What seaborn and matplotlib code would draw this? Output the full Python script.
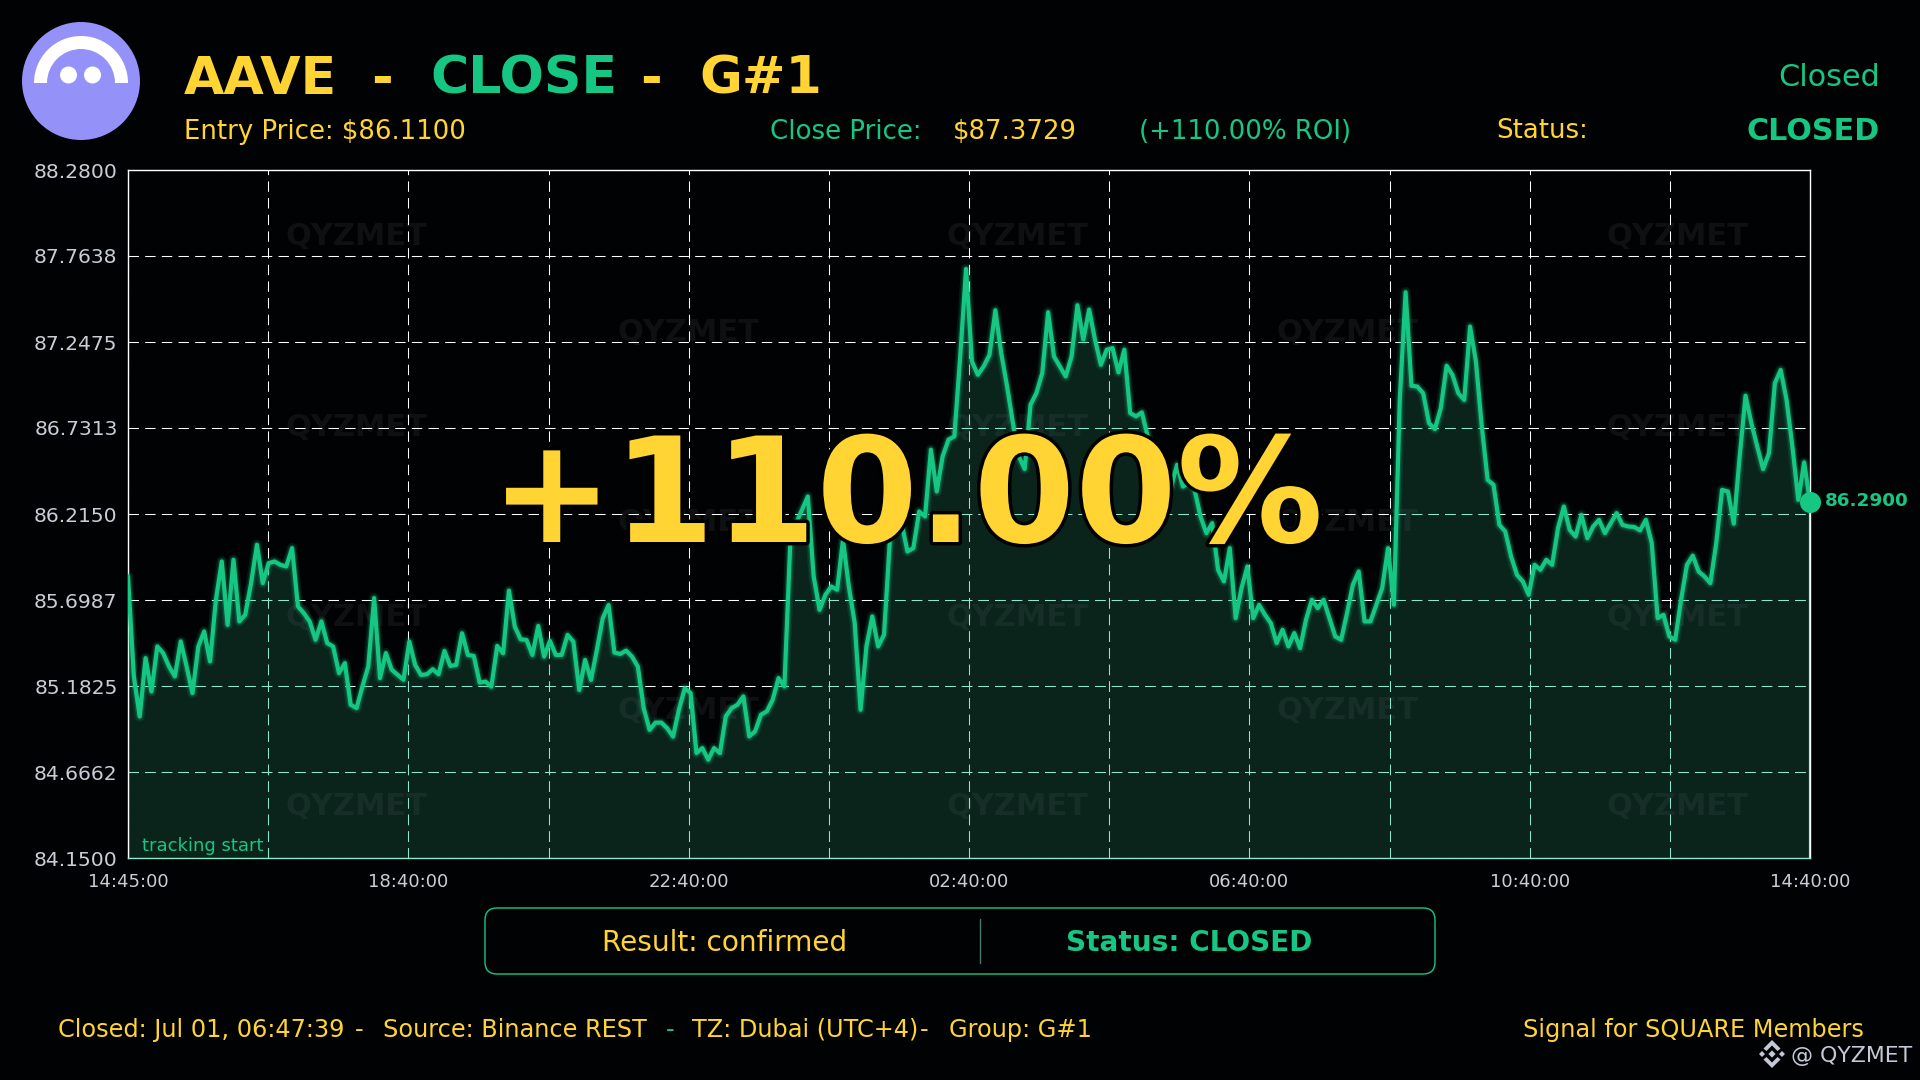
import matplotlib
matplotlib.use("Agg")
import matplotlib.pyplot as plt
import matplotlib.patheffects as pe
from matplotlib.patches import Circle, Wedge, Polygon, FancyBboxPatch
import numpy as np
import seaborn as sns

GREEN = '#16C784'
YELLOW = '#FFD433'
MINT = '#8fe8cd'
GRAY = '#c9ced6'
BG = '#010203'

# close prices, one per candle
prices = [
    85.84, 85.24, 85.00, 85.35, 85.15, 85.42, 85.38, 85.30, 85.24, 85.45,
    85.30, 85.14, 85.42, 85.51, 85.33, 85.70, 85.93, 85.55, 85.94, 85.57,
    85.61, 85.80, 86.03, 85.80, 85.92, 85.93, 85.91, 85.90, 86.01, 85.66,
    85.62, 85.57, 85.46, 85.57, 85.44, 85.42, 85.26, 85.32, 85.07, 85.05,
    85.18, 85.30, 85.71, 85.23, 85.38, 85.28, 85.25, 85.22,
    85.449, 85.309, 85.249, 85.253, 85.283, 85.253, 85.393, 85.303, 85.309, 85.499,
    85.369, 85.363, 85.203, 85.209, 85.179, 85.423, 85.379, 85.755, 85.539, 85.463,
    85.459, 85.369, 85.543, 85.359, 85.453, 85.369, 85.369, 85.489, 85.449, 85.159,
    85.339, 85.219, 85.399, 85.589, 85.669, 85.383, 85.375, 85.395, 85.359, 85.299,
    85.049, 84.919, 84.963, 84.963, 84.929, 84.879, 85.039, 85.169,
    85.14, 84.78, 84.81, 84.74, 84.81, 84.78, 85.00, 85.05, 85.07, 85.12,
    84.88, 84.91, 85.01, 85.03, 85.10, 85.23, 85.18, 86.04, 86.16, 86.24,
    86.32, 85.84, 85.64, 85.73, 85.78, 85.76, 86.06, 85.78, 85.56, 85.04,
    85.42, 85.60, 85.42, 85.49, 86.06, 86.20, 86.16, 85.99, 86.01, 86.23,
    86.20, 86.601, 86.351, 86.561, 86.661, 86.681, 87.161, 87.686,
    87.131, 87.051, 87.101, 87.171, 87.438, 87.181, 86.981, 86.761, 86.561, 86.485,
    86.871, 86.941, 87.061, 87.426, 87.161, 87.101, 87.041, 87.161, 87.468, 87.262,
    87.442, 87.262, 87.111, 87.201, 87.211, 87.065, 87.201, 86.821, 86.801, 86.825,
    86.68, 86.56, 86.50, 86.44, 86.38, 86.51, 86.38, 86.40, 86.36, 86.20,
    86.10, 86.16, 85.88, 85.81, 86.01, 85.59, 85.77, 85.90, 85.59, 85.67,
    85.61, 85.56, 85.44, 85.52, 85.42, 85.50, 85.41, 85.58, 85.70, 85.65,
    85.70, 85.59, 85.48, 85.46, 85.62, 85.79, 85.87, 85.57, 85.57, 85.67,
    85.77, 86.01, 85.67, 86.90, 87.546, 86.985, 86.98, 86.94, 86.76, 86.725,
    86.85, 87.105, 87.05, 86.94, 86.90, 87.34, 87.13, 86.74, 86.42, 86.39,
    86.15, 86.11, 85.96, 85.85, 85.81, 85.73, 85.91, 85.88, 85.94, 85.91,
    86.13, 86.26, 86.12, 86.08, 86.21, 86.07, 86.14, 86.18, 86.10, 86.16,
    86.22, 86.15, 86.14, 86.137, 86.117, 86.18, 86.04, 85.59, 85.61, 85.48,
    85.46, 85.70, 85.91, 85.965, 85.87, 85.84, 85.80, 86.04, 86.36, 86.35,
    86.157, 86.56, 86.925, 86.76, 86.62, 86.485, 86.58, 87.00, 87.08, 86.90,
    86.62, 86.30, 86.525, 86.29,
]
y_ticks = [84.15, 84.6662, 85.1825, 85.6987, 86.2150, 86.7313, 87.2475, 87.7638, 88.28]
x_labels = ['14:45:00', '', '18:40:00', '', '22:40:00', '', '02:40:00', '', '06:40:00', '',
            '10:40:00', '', '14:40:00']

idx = np.arange(len(prices))
x_ticks = np.linspace(idx[0], idx[-1], len(x_labels))

sns.set_theme(style='dark', rc={'figure.facecolor': BG, 'axes.facecolor': BG, 'savefig.facecolor': BG})
plt.rcParams['font.family'] = 'DejaVu Sans'

fig = plt.figure(figsize=(19.2, 10.8), dpi=100)
ax = fig.add_axes([128 / 1920, 1 - 858 / 1080, (1810 - 128) / 1920, (858 - 170) / 1080])

dash = (0, (10, 6))
ax.set_xlim(idx[0], idx[-1])
ax.set_ylim(y_ticks[0], y_ticks[-1])
ax.set_xticks(x_ticks, x_labels)
ax.set_yticks(y_ticks, ['%.4f' % v for v in y_ticks])
ax.tick_params(axis='x', colors=GRAY, labelsize=13, length=0, pad=10.5)
ax.tick_params(axis='y', colors=GRAY, labelsize=14.6, length=0, pad=7.5)
ax.grid(True, color='white', alpha=1, lw=0.75, linestyle=dash)
ax.set_axisbelow(True)
for s in ax.spines.values():
    s.set_color('white')
    s.set_linewidth(1)
    s.set_visible(True)

# watermark
for xf in [0.136, 0.529, 0.921]:
    for yf in [0.903, 0.625, 0.349, 0.075]:
        ax.text(xf, yf, 'QYZMET', transform=ax.transAxes, color='white', alpha=0.06, fontsize=22,
                fontweight='bold', ha='center', va='center', zorder=1)
for xf in [0.333, 0.725]:
    for yf in [0.764, 0.488, 0.214]:
        ax.text(xf, yf, 'QYZMET', transform=ax.transAxes, color='white', alpha=0.06, fontsize=22,
                fontweight='bold', ha='center', va='center', zorder=1)

fill = ax.fill_between(idx, prices, y_ticks[0], color='#3ac795', alpha=0.17, lw=0, zorder=2)

# grid and frame turn mint under the area
clip_path = fill.get_paths()[0]
for v in x_ticks[1:-1]:
    l = ax.axvline(v, color=MINT, lw=0.75, linestyle=dash, zorder=2.5)
    l.set_clip_path(clip_path, fill.get_transform())
for v in y_ticks[1:-1]:
    l = ax.axhline(v, color=MINT, lw=0.75, linestyle=dash, zorder=2.5)
    l.set_clip_path(clip_path, fill.get_transform())
for v in [idx[0], idx[-1]]:
    l = ax.axvline(v, color=MINT, lw=1.6, zorder=2.5)
    l.set_clip_path(clip_path, fill.get_transform())
ax.spines['bottom'].set_color(MINT)

line = sns.lineplot(x=idx, y=prices, ax=ax, color=GREEN, lw=3, zorder=3)
line.lines[-1].set_path_effects([
    pe.Stroke(linewidth=7.5, foreground=GREEN, alpha=0.12),
    pe.Stroke(linewidth=5, foreground=GREEN, alpha=0.22),
    pe.Normal(),
])
sns.scatterplot(x=[idx[-1]], y=[prices[-1]], ax=ax, color=GREEN, s=230, lw=0, zorder=4, clip_on=False)
ax.set_xlabel('')
ax.set_ylabel('')
ax.annotate('%.4f' % prices[-1], (idx[-1], prices[-1]), xytext=(11, 0.5), textcoords='offset points',
            color=GREEN, fontsize=13.2, fontweight='bold', va='center', annotation_clip=False)
ax.text(0.0085, 0.0045, 'tracking start', transform=ax.transAxes, color=GREEN, fontsize=13, va='bottom', zorder=5)

# everything around the chart, in pixel coordinates
over = fig.add_axes([0, 0, 1, 1], zorder=10)
over.set_xlim(0, 1920)
over.set_ylim(1080, 0)
over.axis('off')

def label(x, y, s, color=YELLOW, size=18.7, weight='normal', ha='left', va='baseline'):
    return over.text(x, y, s, color=color, fontsize=size, fontweight=weight, ha=ha, va=va)

# aave logo
over.add_patch(Circle((81, 81), 59, color='#9492f8', lw=0))
over.add_patch(Wedge((81, 83), 47, 180, 360, width=13, color='white', lw=0))
over.add_patch(Circle((68.5, 75), 8.5, color='white', lw=0))
over.add_patch(Circle((92.5, 75), 8.5, color='white', lw=0))

label(184, 94, 'AAVE', size=37.5, weight='bold')
label(371, 94, '-', size=37.5, weight='bold')
label(430, 94, 'CLOSE', GREEN, 37.5, 'bold')
label(640, 94, '-', size=37.5, weight='bold')
label(699, 94, 'G#1', size=37.5, weight='bold')
label(1880, 86, 'Closed', GREEN, 21.8, ha='right')

label(184, 139, 'Entry Price: $86.1100')
label(770, 139, 'Close Price:', GREEN)
label(953, 139, '$87.3729')
label(1139, 139, '(+110.00% ROI)', GREEN)
label(1496, 138, 'Status:')
label(1880, 140.5, 'CLOSED', GREEN, 21.7, 'bold', ha='right')

big = label(907, 542, '+110.00%', size=105.2, weight='bold', ha='center')
big.set_path_effects([pe.withStroke(linewidth=5, foreground='black')])

# result box
over.add_patch(FancyBboxPatch((485, 908), 950, 66, boxstyle='round,pad=0,rounding_size=12',
                              fc='none', ec=GREEN, lw=1))
over.plot([980, 980], [919, 963], color='#4a7a68', lw=1)
label(725, 951, 'Result: confirmed', size=20.2, ha='center')
label(1189, 951, 'Status: CLOSED', GREEN, 20.1, 'bold', ha='center')

# footer
label(58, 1037, 'Closed: Jul 01, 06:47:39', size=17.25)
label(355, 1037, '-', size=17.25)
label(383, 1037, 'Source: Binance REST', size=17.25)
label(666, 1037, '-', GREEN, 17.25)
label(692, 1037, 'TZ: Dubai (UTC+4)', size=17.25)
label(920, 1037, '-', size=17.25)
label(949, 1037, 'Group: G#1', size=17.25)
label(1864, 1037, 'Signal for SQUARE Members', size=17.25, ha='right')
label(1912, 1062, '@ QYZMET', '#c3c9d6', 15.8, ha='right')

# binance mark
cx, cy = 1772, 1054
for dx, r in [(0, 3.6), (-10, 3), (10, 3)]:
    over.add_patch(Polygon([(cx + dx - r, cy), (cx + dx, cy - r), (cx + dx + r, cy), (cx + dx, cy + r)],
                           color='#c3c9d6', lw=0))
for sgn in [-1, 1]:
    over.add_patch(Polygon([(cx, cy + sgn * 14), (cx + 8.5, cy + sgn * 5.5), (cx + 5.5, cy + sgn * 3),
                            (cx, cy + sgn * 8.5), (cx - 5.5, cy + sgn * 3), (cx - 8.5, cy + sgn * 5.5)],
                           color='#c3c9d6', lw=0))

plt.savefig('out.png', dpi=100)
plt.close('all')
